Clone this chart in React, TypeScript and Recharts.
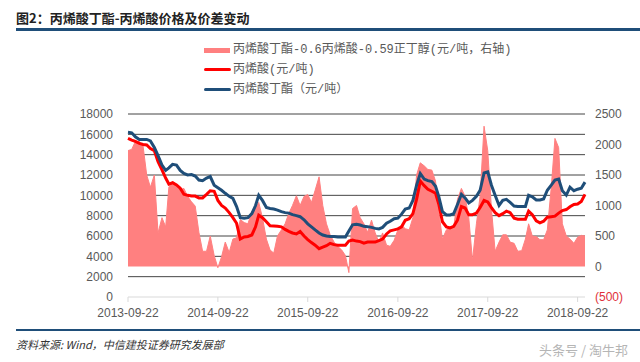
import {
  Area,
  CartesianGrid,
  ComposedChart,
  Line,
  XAxis,
  YAxis,
} from "recharts";

// semimonthly sample dates (7th / 22nd)
const DATES = [
  "2013-09-22", "2013-10-07", "2013-10-22", "2013-11-07", "2013-11-22", "2013-12-07", "2013-12-22",
  "2014-01-07", "2014-01-22", "2014-02-07", "2014-02-22", "2014-03-07", "2014-03-22", "2014-04-07", "2014-04-22",
  "2014-05-07", "2014-05-22", "2014-06-07", "2014-06-22", "2014-07-07", "2014-07-22", "2014-08-07", "2014-08-22",
  "2014-09-07", "2014-09-22", "2014-10-07", "2014-10-22", "2014-11-07", "2014-11-22", "2014-12-07", "2014-12-22",
  "2015-01-07", "2015-01-22", "2015-02-07", "2015-02-22", "2015-03-07", "2015-03-22", "2015-04-07", "2015-04-22",
  "2015-05-07", "2015-05-22", "2015-06-07", "2015-06-22", "2015-07-07", "2015-07-22", "2015-08-07", "2015-08-22",
  "2015-09-07", "2015-09-22", "2015-10-07", "2015-10-22", "2015-11-07", "2015-11-22", "2015-12-07", "2015-12-22",
  "2016-01-07", "2016-01-22", "2016-02-07", "2016-02-22", "2016-03-07", "2016-03-22", "2016-04-07", "2016-04-22",
  "2016-05-07", "2016-05-22", "2016-06-07", "2016-06-22", "2016-07-07", "2016-07-22", "2016-08-07", "2016-08-22",
  "2016-09-07", "2016-09-22", "2016-10-07", "2016-10-22", "2016-11-07", "2016-11-22", "2016-12-07", "2016-12-22",
  "2017-01-07", "2017-01-22", "2017-02-07", "2017-02-22", "2017-03-07", "2017-03-22", "2017-04-07", "2017-04-22",
  "2017-05-07", "2017-05-22", "2017-06-07", "2017-06-22", "2017-07-07", "2017-07-22", "2017-08-07", "2017-08-22",
  "2017-09-07", "2017-09-22", "2017-10-07", "2017-10-22", "2017-11-07", "2017-11-22", "2017-12-07", "2017-12-22",
  "2018-01-07", "2018-01-22", "2018-02-07", "2018-02-22", "2018-03-07", "2018-03-22", "2018-04-07", "2018-04-22",
  "2018-05-07", "2018-05-22", "2018-06-07", "2018-06-22", "2018-07-07", "2018-07-22", "2018-08-07", "2018-08-22",
  "2018-09-07", "2018-09-22", "2018-10-07", "2018-10-22",
];

// 丙烯酸丁酯 (元/吨)
const BA = [
  16200, 16150, 15750, 15500, 15500, 15500, 15350, 14700, 13900, 12980,
  12450, 12700, 13050, 12980, 12450, 12150, 12000, 12050, 11900, 11500,
  11440, 11700, 11850, 11000, 10750, 10500, 10200, 9900, 9700, 8900,
  7800, 7750, 7800, 8200, 9000, 10000, 9500, 8800, 8700, 8650,
  8550, 8400, 8300, 8250, 8100, 8000, 7900, 7600, 7200, 6900,
  6600, 6300, 6100, 6000, 5950, 5950, 5900, 5900, 5900, 6500,
  7100, 7150, 7080, 6950, 6920, 6850, 6750, 6700, 6850, 7250,
  7450, 7700, 7750, 8150, 8650, 8750, 9500, 11000, 12150, 11600,
  11450, 11350, 10900, 9900, 8400, 8070, 8070, 8200, 9100, 10100,
  9750, 9250, 9500, 9900, 10500, 12200, 12300, 11000, 10000, 9000,
  9500, 9600, 9300, 8950, 8900, 8900, 8900, 10000, 9850, 9540,
  9550, 9650, 10500, 11000, 11500, 11600, 10450, 10030, 10800, 10450,
  10600, 10700, 11300,
];

// 丙烯酸 (元/吨)
const AA = [
  15610, 15440, 15300, 15110, 15000, 14950, 14600, 14390, 13300, 12500,
  11700, 11110, 11240, 11020, 10700, 10100, 10000, 9930, 9930, 9750,
  9750, 10100, 10450, 10400, 9500, 9000, 8750, 8300, 7800, 7250,
  5700, 5900, 5950, 6100, 6900, 8050, 7800, 7400, 7000, 6980,
  6950, 6900, 6650, 6450, 6300, 6200, 6450, 6000, 5650, 5350,
  5100, 4750, 4900, 5050, 5280, 5150, 5100, 5100, 5100, 5500,
  5600, 5500, 5450, 5300, 5400, 5400, 5400, 5550, 5700, 6200,
  6500, 6600, 6700, 6900, 7550, 7700, 8200, 9600, 11400, 10950,
  10600, 10400, 10200, 9150, 7400, 6900, 6800, 6950, 7550, 8900,
  8750, 8100, 8100, 8250, 8800, 9500, 9350, 8800, 8300, 8000,
  8200, 8450, 8300, 7750, 7650, 7650, 7650, 8450, 8100, 7500,
  7300, 7450, 7850, 7900, 7950, 8250, 8500, 8600, 8880, 9100,
  9150, 9400, 10100,
];

// 价差 (右轴)
const SPREAD = [
  1900, 1920, 2050, 2050, 1980, 1500, 1300, 1500, 550, 800,
  650, 1300, 1390, 1350, 1260, 1280, 1150, 1060, 990, 560,
  250, 250, 500, 180, -20, 160, 400, 230, 450, 470,
  770, 720, 700, 900, 950, 1050, 800, 450, 270, 220,
  500, 600, 700, 870, 1000, 1160, 1000, 1150, 1180, 1050,
  1250, 1470, 1000, 700, 520, 400, 330, 270, 180, -100,
  950, 1000, 800, 700, 560, 760, 550, 400, 550, 350,
  330, 430, 600, 680, 620, 600, 800, 1500, 1700, 1650,
  1590, 1580, 1400, 900, 450, 600, 650, 650, 1100, 1280,
  1150, 800, 100, 700, 1150, 2300, 1900, 950, 250, 400,
  520, 520, 400, 380, 250, 260, 450, 700, 500, 490,
  440, 440, 600, 1300, 2100, 1950, 700, 500, 450, 380,
  480, 510, 500,
];

const X_TICKS = ["2013-09-22", "2014-09-22", "2015-09-22", "2016-09-22", "2017-09-22", "2018-09-22"];
const LEFT_TICKS = [0, 2000, 4000, 6000, 8000, 10000, 12000, 14000, 16000, 18000];
const RIGHT_TICKS = [-500, 0, 500, 1000, 1500, 2000, 2500];

const LABEL_SPREAD = "丙烯酸丁酯-0.6丙烯酸-0.59正丁醇(元/吨，右轴)";
const LABEL_AA = "丙烯酸(元/吨)";
const LABEL_BA = "丙烯酸丁酯（元/吨）";

const PINK = "#FF8080";
const RED = "#FF0000";
const NAVY = "#1F4E79";
const AXIS_TEXT = "#595959";
const CJK = '"Noto Sans CJK SC", sans-serif';

const data = DATES.map((d, i) => ({
  t: Date.parse(d),
  ba: BA[i],
  aa: AA[i],
  spread: SPREAD[i],
}));

const fmtDate = (t: number) => new Date(t).toISOString().slice(0, 10);

const RightTick = ({ x, y, payload }: any) => {
  const v = Number(payload.value);
  return (
    <text
      x={x}
      y={y}
      dy="0.355em"
      textAnchor="start"
      fontSize={12}
      fontFamily='"Liberation Sans", Arial, sans-serif'
      fill={v < 0 ? "#E0303A" : AXIS_TEXT}
    >
      {v < 0 ? `(${Math.abs(v)})` : v}
    </text>
  );
};

const legendText = {
  position: "absolute" as const,
  left: 233,
  fontSize: 12,
  lineHeight: "16px",
  color: AXIS_TEXT,
  fontFamily: `"Liberation Mono", ${CJK}`,
  whiteSpace: "nowrap" as const,
};

export default function App() {
  return (
    <div
      style={{
        position: "fixed",
        left: 0,
        top: 0,
        width: 640,
        height: 362,
        background: "#fff",
        overflow: "hidden",
        fontFamily: CJK,
      }}
    >
      <div
        style={{
          position: "absolute",
          left: 16,
          top: 9,
          fontSize: 13,
          lineHeight: "17px",
          fontWeight: 700,
          color: "#222",
        }}
      >
        图2：丙烯酸丁酯-丙烯酸价格及价差变动
      </div>
      <div style={{ position: "absolute", left: 16, right: 0, top: 28, height: 3, background: NAVY }} />

      <ComposedChart
        width={640}
        height={362}
        data={data}
        margin={{ top: 114, right: 5, bottom: 35, left: 68 }}
        style={{ position: "absolute", left: 0, top: 0 }}
      >
        <CartesianGrid
          yAxisId="left"
          vertical={false}
          stroke="#454545"
          horizontalValues={LEFT_TICKS.slice(1)}
        />
        <XAxis
          dataKey="t"
          type="number"
          scale="time"
          domain={[Date.parse(DATES[0]), Date.parse(DATES[DATES.length - 1])]}
          ticks={X_TICKS.map((d) => Date.parse(d))}
          tickFormatter={fmtDate}
          height={30}
          stroke="#D9D9D9"
          tickSize={5}
          tickMargin={6}
          tick={{ fontSize: 12, fill: AXIS_TEXT, fontFamily: '"Liberation Sans", Arial, sans-serif' }}
        />
        <YAxis
          yAxisId="left"
          orientation="left"
          width={60}
          domain={[0, 18000]}
          ticks={LEFT_TICKS}
          interval={0}
          axisLine={false}
          tickLine={false}
          tickSize={0}
          tickMargin={15}
          tick={{ fontSize: 12, fill: AXIS_TEXT, fontFamily: '"Liberation Sans", Arial, sans-serif' }}
        />
        <YAxis
          yAxisId="right"
          orientation="right"
          width={50}
          domain={[-500, 2500]}
          ticks={RIGHT_TICKS}
          interval={0}
          axisLine={false}
          tickLine={false}
          tickSize={0}
          tickMargin={10}
          tick={<RightTick />}
        />
        <Area
          yAxisId="right"
          dataKey="spread"
          name={LABEL_SPREAD}
          type="linear"
          baseValue={0}
          fill={PINK}
          fillOpacity={1}
          stroke={PINK}
          strokeWidth={1}
          isAnimationActive={false}
        />
        <Line
          yAxisId="left"
          dataKey="aa"
          name={LABEL_AA}
          type="linear"
          stroke={RED}
          strokeWidth={3}
          dot={false}
          isAnimationActive={false}
        />
        <Line
          yAxisId="left"
          dataKey="ba"
          name={LABEL_BA}
          type="linear"
          stroke={NAVY}
          strokeWidth={3}
          dot={false}
          isAnimationActive={false}
        />
      </ComposedChart>

      {/* legend */}
      <div style={{ position: "absolute", left: 204, top: 48, width: 26, height: 5, background: PINK }} />
      <div style={{ ...legendText, top: 42 }}>{LABEL_SPREAD}</div>
      <div style={{ position: "absolute", left: 204, top: 68, width: 27, height: 3, borderRadius: 2, background: RED }} />
      <div style={{ ...legendText, top: 62 }}>{LABEL_AA}</div>
      <div style={{ position: "absolute", left: 204, top: 88, width: 27, height: 3, borderRadius: 2, background: NAVY }} />
      <div style={{ ...legendText, top: 82 }}>{LABEL_BA}</div>

      <div style={{ position: "absolute", left: 16, right: 0, top: 329, height: 2, background: NAVY }} />
      <div
        style={{
          position: "absolute",
          left: 16,
          top: 337,
          fontSize: 11,
          lineHeight: "15px",
          fontStyle: "italic",
          color: "#333",
        }}
      >
        资料来源: Wind，中信建投证券研究发展部
      </div>
      <div
        style={{
          position: "absolute",
          right: 12,
          top: 341,
          fontSize: 13,
          lineHeight: "17px",
          color: "#B5B5B5",
        }}
      >
        头条号 / 淘牛邦
      </div>
    </div>
  );
}
